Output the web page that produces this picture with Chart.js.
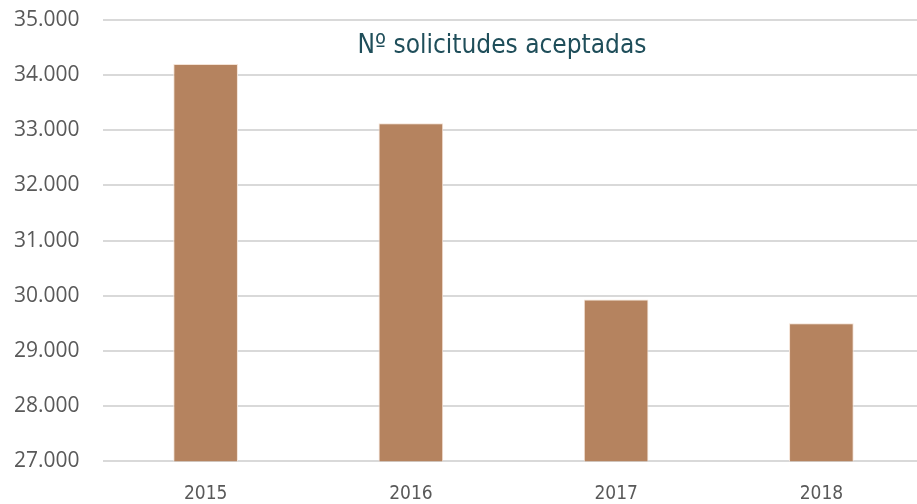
<!DOCTYPE html>
<html>
<head>
<meta charset="utf-8">
<script src="https://cdn.jsdelivr.net/npm/chart.js@4.4.0/dist/chart.umd.min.js"></script>
<style>
  html, body { margin: 0; padding: 0; background: #fff; overflow: hidden; }
  #wrap { width: 924px; height: 504px; }
</style>
</head>
<body>
<div id="wrap"><canvas id="chart"></canvas></div>
<script>
// Data
const years = ['2015', '2016', '2017', '2018'];
const accepted = [34200, 33130, 29930, 29500];
const yTicks = [27000, 28000, 29000, 30000, 31000, 32000, 33000, 34000, 35000];
const chartTitle = 'Nº solicitudes aceptadas';

// Title drawn inside the plot area, between the top gridlines
const innerTitle = {
  id: 'innerTitle',
  afterDraw(chart) {
    const { ctx, scales } = chart;
    ctx.save();
    ctx.font = '26px "DejaVu Sans Condensed", sans-serif';
    ctx.fillStyle = '#1f4e5a';
    ctx.textAlign = 'center';
    ctx.textBaseline = 'middle';
    ctx.fillText(chartTitle, 502, scales.y.getPixelForValue(34530));
    ctx.restore();
  }
};

new Chart(document.getElementById('chart').getContext('2d'), {
  type: 'bar',
  data: {
    labels: years,
    datasets: [{
      label: chartTitle,
      data: accepted,
      backgroundColor: '#b5835f',
      borderColor: '#f4e3d6',
      borderWidth: 1,
      categoryPercentage: 1,
      barPercentage: 0.315
    }]
  },
  options: {
    responsive: true,
    maintainAspectRatio: false,
    animation: false,
    layout: { padding: { left: 14, top: 20, right: 0, bottom: -22 } },
    plugins: {
      legend: { display: false },
      title: { display: false },
      tooltip: { enabled: false }
    },
    scales: {
      x: {
        grid: { display: false, drawTicks: false },
        border: { display: false },
        ticks: {
          color: '#595959',
          font: { family: '"DejaVu Sans Condensed", sans-serif', size: 19 },
          padding: 21
        }
      },
      y: {
        min: 27000,
        max: 35000,
        afterBuildTicks(axis) {
          axis.ticks = yTicks.map(v => ({ value: v }));
        },
        // labels sit at the left edge, plot starts at x=103
        afterFit(axis) {
          axis.width = 89;
        },
        grid: { color: '#d9d9d9', lineWidth: 2, drawTicks: false },
        border: { display: false },
        ticks: {
          color: '#595959',
          padding: 0,
          crossAlign: 'far',
          font: { family: '"Open Sans", sans-serif', size: 21 },
          callback: v => v.toLocaleString('de-DE')
        }
      }
    }
  },
  plugins: [innerTitle]
});
</script>
</body>
</html>
